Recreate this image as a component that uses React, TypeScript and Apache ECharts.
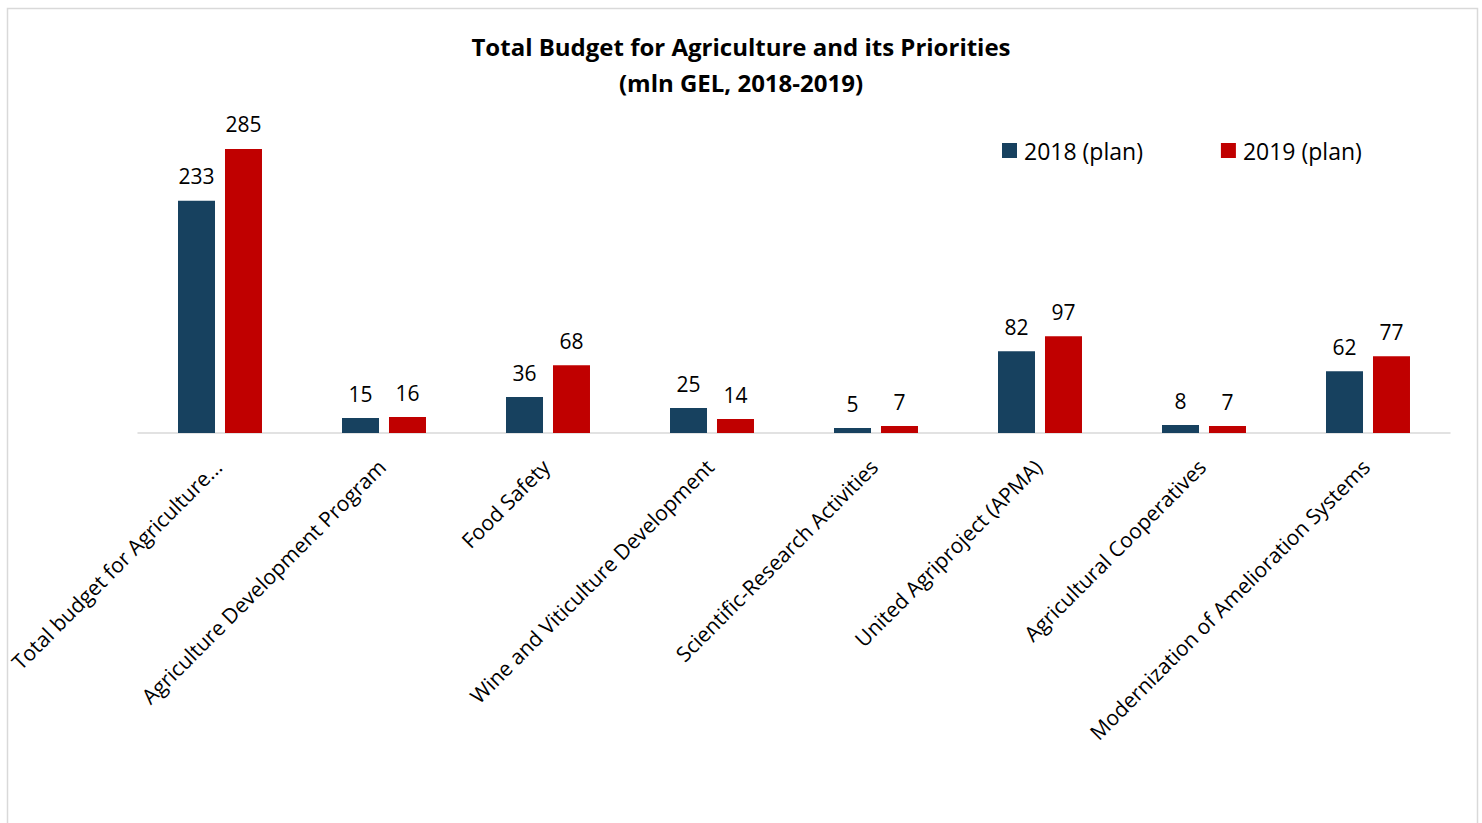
import React, { useEffect, useRef } from "react";
import * as echarts from "echarts";

const categories = [
  "Total budget for Agriculture...",
  "Agriculture Development Program",
  "Food Safety",
  "Wine and Viticulture Development",
  "Scientific-Research Activities",
  "United Agriproject (APMA)",
  "Agricultural Cooperatives",
  "Modernization of Amelioration Systems",
];
const plan2018 = [233, 15, 36, 25, 5, 82, 8, 62];
const plan2019 = [285, 16, 68, 14, 7, 97, 7, 77];
const seriesNames = ["2018 (plan)", "2019 (plan)"];
const titleText = "Total Budget for Agriculture and its Priorities\n(mln GEL, 2018-2019)";

const FONT = "'Open Sans', 'Noto Sans', sans-serif";

export default function App() {
  const ref = useRef<HTMLDivElement>(null);
  useEffect(() => {
    if (!ref.current) return;
    const chart = echarts.init(ref.current, undefined, { renderer: "svg" });
    const labelStyle = {
      show: true,
      position: "top" as const,
      distance: 14,
      fontSize: 21,
      color: "#000",
      fontFamily: FONT,
    };
    chart.setOption({
      animation: false,
      backgroundColor: "#fff",
      textStyle: { fontFamily: FONT },
      title: {
        text: titleText,
        left: "center",
        top: 28,
        padding: 0,
        textStyle: {
          fontSize: 24,
          fontWeight: "bold",
          color: "#000",
          lineHeight: 36,
          fontFamily: FONT,
        },
      },
      legend: {
        left: 1002,
        top: 139,
        padding: 0,
        itemWidth: 15,
        itemHeight: 15,
        itemGap: 78,
        icon: "rect",
        textStyle: { fontSize: 23, color: "#000", fontFamily: FONT, padding: [0, 0, 0, 2] },
        data: seriesNames,
      },
      graphic: [
        {
          type: "rect",
          shape: { x: 7.5, y: 8.5, width: 1470, height: 830 },
          style: { fill: "none", stroke: "#d9d9d9", lineWidth: 1.5 },
          silent: true,
        },
      ],
      grid: { left: 138, right: 32, top: 134, bottom: 390, containLabel: false },
      xAxis: {
        type: "category",
        data: categories,
        axisLine: { lineStyle: { color: "#d9d9d9", width: 1.5 } },
        axisTick: { show: false },
        axisLabel: {
          interval: 0,
          rotate: 45,
          margin: 28,
          padding: [0, 3, 0, 0],
          fontSize: 21,
          color: "#000",
          fontFamily: FONT,
        },
      },
      yAxis: {
        type: "value",
        min: 0,
        max: 300,
        show: false,
        splitLine: { show: false },
      },
      series: [
        {
          name: seriesNames[0],
          type: "bar",
          data: plan2018,
          barWidth: 37,
          barGap: "27%",
          itemStyle: { color: "#17415f" },
          label: labelStyle,
        },
        {
          name: seriesNames[1],
          type: "bar",
          data: plan2019,
          barWidth: 37,
          barGap: "27%",
          itemStyle: { color: "#c00000" },
          label: labelStyle,
        },
      ],
    });
    return () => chart.dispose();
  }, []);
  return (
    <div
      ref={ref}
      style={{ position: "fixed", left: 0, top: 0, width: 1482, height: 823 }}
    />
  );
}
